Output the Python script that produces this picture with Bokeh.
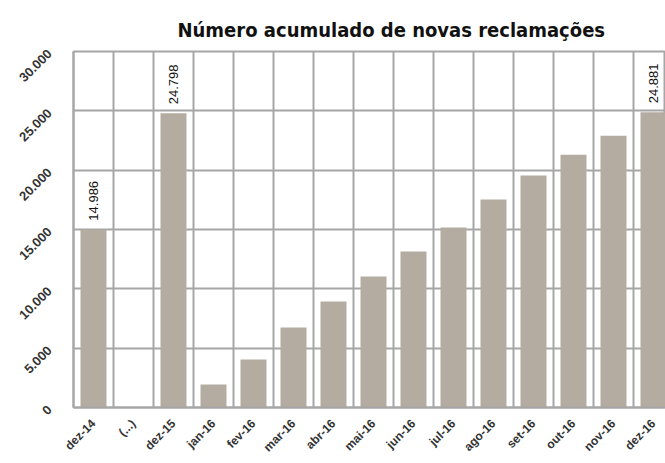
import math
from bokeh.plotting import figure
from bokeh.models import ColumnDataSource, FixedTicker, Range1d, Title
from bokeh.core.properties import value
from bokeh.embed import file_html
from bokeh.resources import INLINE

categories = ["dez-14", "(...)", "dez-15", "jan-16", "fev-16", "mar-16", "abr-16", "mai-16",
              "jun-16", "jul-16", "ago-16", "set-16", "out-16", "nov-16", "dez-16"]
values = [14986, 0, 24798, 1940, 4040, 6740, 8930, 11040, 13140, 15160, 17520, 19550, 21300, 22900, 24881]
labels = ["14.986", "", "24.798", "", "", "", "", "", "", "", "", "", "", "", "24.881"]
y_ticks = [0, 5000, 10000, 15000, 20000, 25000, 30000]
y_tick_labels = ["0", "5.000", "10.000", "15.000", "20.000", "25.000", "30.000"]
title_text = "Número acumulado de novas reclamações"

xs = list(range(len(categories)))
src = ColumnDataSource(dict(x=xs, top=values))
lab_idx = [i for i, l in enumerate(labels) if l]
lsrc = ColumnDataSource(dict(x=[xs[i] for i in lab_idx], y=[values[i] for i in lab_idx],
                             t=[labels[i] for i in lab_idx]))

p = figure(width=665, height=463, output_backend="svg", toolbar_location=None,
           x_range=Range1d(-0.5, 14.3), y_range=Range1d(0, 30000),
           min_border_left=73, min_border_right=0, min_border_top=51, min_border_bottom=56)
p.background_fill_color = "white"
p.border_fill_color = "white"
p.outline_line_color = "#a6a6a6"
p.outline_line_width = 2

p.vbar(x="x", top="top", width=0.65, source=src, fill_color="#b4aba1", line_color=None)

p.text(x="x", y="y", text="t", source=lsrc, angle=math.pi / 2, text_align="left",
       text_baseline="middle", y_offset=-9, text_font_size="13px",
       text_font=value("Liberation Sans"), text_color="#111111")

p.title = Title(text=title_text, align="left", offset=104,
                text_font="DejaVu Sans Condensed", text_font_size="20px",
                text_font_style="bold", text_color="#111111", standoff=20)

p.xaxis.ticker = FixedTicker(ticks=xs)
p.xaxis.major_label_overrides = {i: c for i, c in enumerate(categories)}
p.xaxis.major_label_orientation = math.pi / 4
p.yaxis.ticker = FixedTicker(ticks=y_ticks)
p.yaxis.major_label_overrides = {t: l for t, l in zip(y_ticks, y_tick_labels)}
p.yaxis.major_label_orientation = math.pi / 4
for ax in (p.xaxis, p.yaxis):
    ax.axis_line_color = "#a6a6a6"
    ax.axis_line_width = 2
    ax.major_tick_line_color = None
    ax.minor_tick_line_color = None
    ax.major_label_text_font = "Liberation Sans"
    ax.major_label_text_font_style = "bold"
    ax.major_label_text_color = "#333333"
p.xaxis.major_label_text_font_size = "12px"
p.yaxis.major_label_text_font_size = "13px"
p.xaxis.major_label_standoff = 8
p.yaxis.major_label_standoff = 18

p.xgrid.ticker = FixedTicker(ticks=[i - 0.5 for i in range(16)])
p.xgrid.grid_line_color = "#a6a6a6"
p.xgrid.grid_line_width = 2
p.ygrid.grid_line_color = "#a6a6a6"
p.ygrid.grid_line_width = 2

open("out.html", "w").write(file_html(p, INLINE))
